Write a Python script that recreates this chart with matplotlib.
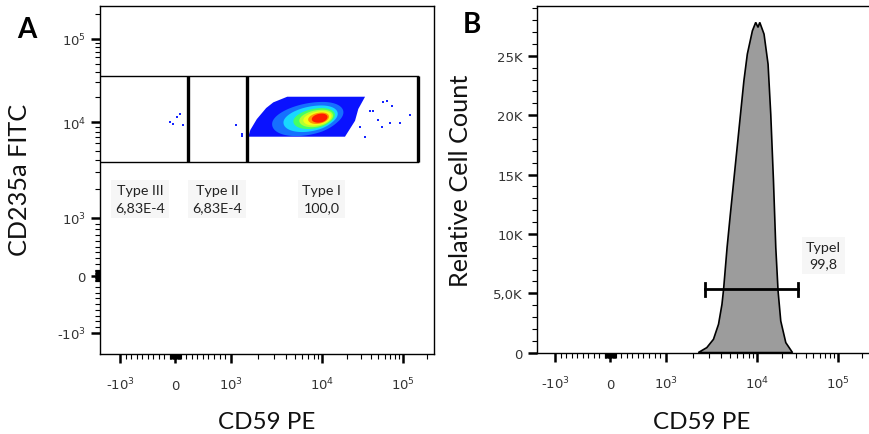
import numpy as np
import matplotlib
matplotlib.use("Agg")
import matplotlib.pyplot as plt

# ---------------- data ----------------
# Panel A: gates on CD59 PE (x) / CD235a FITC (y)
GATE_X = [222, 1494, 155000]          # Type III | Type II | Type I boundaries
GATE_Y = [3840, 35800]                # lower / upper gate limits
GATE_NAMES = ["Type III", "Type II", "Type I"]
GATE_PCTS = ["6,83E-4", "6,83E-4", "100,0"]
GATE_LABEL_X = [-640, 756, 9800]
GATE_LABEL_Y = 1580

# outline of the main (blue) event cloud
CLOUD_X = [4140, 34000, 28000, 25500, 19100, 1560, 1640, 1930, 2440, 2920]
CLOUD_Y = [20200, 20200, 14400, 10400, 7060, 7060, 8300, 10900, 14800, 17300]

# density levels (centre, half-width / half-height in decades)
LEVEL_CX = [7190, 7640, 8300, 8700, 8950, 9190, 9410]
LEVEL_CY = 11200
LEVEL_HW = [0.412, 0.313, 0.240, 0.195, 0.163, 0.121, 0.091]
LEVEL_HH = [0.178, 0.140, 0.112, 0.094, 0.078, 0.064, 0.052]
LEVEL_COLORS = ["#1670ff", "#18d8ff", "#44ff66", "#b4ff30", "#f4ff18", "#ff9800", "#ff1c00"]

# sparse single events
OUT_X = [-96, -36, 25, 85, 134, 1150, 1340, 1320, 39200, 43200, 57500, 63300,
         73200, 49800, 54900, 69700, 92900, 123700, 34000, 29400]
OUT_Y = [10150, 9570, 11400, 12560, 9350, 9420, 7230, 7540, 13740, 13740, 17300,
         18100, 15800, 10650, 8990, 9750, 9750, 12200, 7060, 8850]

# Panel B: CD59 PE histogram
HIST_X = [2270, 2810, 3320, 3770, 4110, 4280, 4670, 5070, 5520, 6010, 6540, 7120,
          7760, 8810, 9580, 10170, 10690, 12090, 13570, 14660, 15850, 16940,
          18090, 19540, 22580, 27390]
HIST_Y = [0, 420, 1120, 2390, 4070, 5340, 8850, 11660, 14470, 17280, 20090, 22900,
          25150, 27110, 27820, 27400, 27820, 26830, 24300, 20090, 14470, 8850,
          5190, 2660, 840, 0]
BAR_X = [2690, 32200]
BAR_Y = 5340
BAR_LABEL = "TypeI\n99,8"
BAR_LABEL_POS = (66800, 8200)

# tick definitions
BI_MAJOR = [-1000, 0, 1000, 10000, 100000]
BI_LABELS = ["-$10^{3}$", "0", "$10^{3}$", "$10^{4}$", "$10^{5}$"]
BI_MINOR = ([-k * 100 for k in range(1, 10)] + [-k * 10 for k in range(1, 10)] +
            [k * 10 for k in range(1, 10)] + [k * 100 for k in range(1, 10)] +
            [k * 1000 for k in range(2, 10)] + [k * 10000 for k in range(2, 10)] +
            [200000])
CNT_MAJOR = [0, 5000, 10000, 15000, 20000, 25000]
CNT_LABELS = ["0", "5,0K", "10K", "15K", "20K", "25K"]
CNT_MINOR = [k * 1000 for k in range(0, 30) if k % 5]

# ---------------- biexponential-like scale ----------------
LIN = 1000.0
T_ANCH = np.array([-6.0, -1.0, 0.0, 1.0, 2.0, 3.0, 6.0])
N_ANCH = np.array([0.061 - 5 * 0.165, 0.061, 0.2255, 0.391, 0.666, 0.906, 0.906 + 3 * 0.24])


def fwd(x):
    x = np.asarray(x, dtype=float)
    a = np.abs(x)
    t = np.where(a <= LIN, a / LIN, 1.0 + np.log10(np.maximum(a, LIN) / LIN))
    return np.interp(np.sign(x) * t, T_ANCH, N_ANCH)


def inv(n):
    n = np.asarray(n, dtype=float)
    t = np.interp(n, N_ANCH, T_ANCH)
    a = np.abs(t)
    v = np.where(a <= 1, a * LIN, LIN * 10 ** (np.maximum(a, 1) - 1))
    return np.sign(t) * v


plt.rcParams["font.family"] = ["DejaVu Sans"]
plt.rcParams["mathtext.fontset"] = "dejavusans"

W, H = 869, 435
fig = plt.figure(figsize=(W / 100, H / 100), dpi=100)

TICK_COLOR = "#333333"
LABEL_FONT = "Lato"


def style_axes(ax):
    for s in ax.spines.values():
        s.set_linewidth(1.0)
        s.set_color("black")
    ax.tick_params(which="major", length=6.2, width=1.8, color="black",
                   labelsize=9.5, labelcolor=TICK_COLOR, direction="out")
    ax.tick_params(which="minor", length=3.3, width=0.8, color="black", direction="out")
    ax.tick_params(axis="y", which="major", pad=4)


def bi_xaxis(ax, shift=0.0):
    ax.set_xscale("function", functions=(fwd, inv))
    ax.set_xlim(inv(0.0 + shift), inv(1.0 + shift))
    ax.set_xticks(BI_MAJOR)
    ax.set_xticklabels(BI_LABELS)
    ax.set_xticks(BI_MINOR, minor=True)
    ax.tick_params(axis="x", which="major", pad=19)
    for lab in ax.get_xticklabels():
        lab.set_verticalalignment("baseline")


# ---------------- Panel A ----------------
axA = fig.add_axes([100 / W, (H - 355) / H, 334 / W, 348 / H])
bi_xaxis(axA)
axA.set_yscale("function", functions=(fwd, inv))
axA.set_ylim(inv(0.0), inv(1.0))
axA.set_yticks(BI_MAJOR)
axA.set_yticklabels(BI_LABELS)
axA.set_yticks(BI_MINOR, minor=True)
style_axes(axA)

cloud = axA.fill(CLOUD_X, CLOUD_Y, color="#0a12ff", lw=0, zorder=2)[0]
theta = np.linspace(0, 2 * np.pi, 120)
phi = np.deg2rad(12)
for cx, hw, hh, col in zip(LEVEL_CX, LEVEL_HW, LEVEL_HH, LEVEL_COLORS):
    lx = np.log10(cx) + hw * np.cos(theta) * np.cos(phi) - hh * np.sin(theta) * np.sin(phi)
    ly = np.log10(LEVEL_CY) + hw * np.cos(theta) * np.sin(phi) + hh * np.sin(theta) * np.cos(phi)
    p = axA.fill(10 ** lx, 10 ** ly, color=col, lw=0, zorder=3)[0]
    p.set_clip_path(cloud)
axA.scatter(OUT_X, OUT_Y, s=2.5, c="#1424ff", marker="s", linewidths=0, zorder=3)

xl = axA.get_xlim()
axA.plot([xl[0], GATE_X[-1]], [GATE_Y[1], GATE_Y[1]], color="black", lw=1.0, zorder=4)
axA.plot([xl[0], GATE_X[-1]], [GATE_Y[0], GATE_Y[0]], color="black", lw=1.0, zorder=4)
for gx in GATE_X:
    axA.plot([gx, gx], GATE_Y, color="black", lw=2.4, zorder=4, solid_capstyle="butt")

for name, pct, lx_ in zip(GATE_NAMES, GATE_PCTS, GATE_LABEL_X):
    axA.text(lx_, GATE_LABEL_Y, f"{name}\n{pct}", ha="center", va="center",
             fontsize=10.3, family=LABEL_FONT, color="#222222", linespacing=1.5,
             bbox=dict(boxstyle="square,pad=0.3", fc="#f6f6f6", ec="none"), zorder=5)

# ---------------- Panel B ----------------
axB = fig.add_axes([537 / W, (H - 354.3) / H, 334 / W, 347.3 / H])
bi_xaxis(axB, shift=0.006)
axB.set_ylim(-60, 29200)
axB.set_yticks(CNT_MAJOR)
axB.set_yticklabels(CNT_LABELS)
axB.set_yticks(CNT_MINOR, minor=True)
style_axes(axB)

axB.fill(HIST_X, HIST_Y, facecolor="#9c9c9c", edgecolor="black", lw=1.2, zorder=2)
axB.plot(BAR_X, [BAR_Y, BAR_Y], color="black", lw=2.0, zorder=4)
for bx in BAR_X:
    axB.plot([bx, bx], [BAR_Y - 560, BAR_Y + 560], color="black", lw=2.0, zorder=4)
axB.text(*BAR_LABEL_POS, BAR_LABEL, ha="center", va="center", fontsize=10.3,
         family=LABEL_FONT, color="#222222", linespacing=1.45,
         bbox=dict(boxstyle="square,pad=0.3", fc="#f6f6f6", ec="none"), zorder=5)

# ---------------- labels ----------------
fig.text(20 / W, 1 - 180 / H, "CD235a FITC", rotation=90, ha="center", va="center",
         fontsize=18.2, family=LABEL_FONT, color="#111111")
fig.text(460 / W, 1 - 181 / H, "Relative Cell Count", rotation=90, ha="center",
         va="center", fontsize=18.2, family=LABEL_FONT, color="#111111")
fig.text(267 / W, 1 - 423 / H, "CD59 PE", ha="center", va="center",
         fontsize=17.4, family=LABEL_FONT, color="#111111")
fig.text(702 / W, 1 - 423 / H, "CD59 PE", ha="center", va="center",
         fontsize=17.4, family=LABEL_FONT, color="#111111")
fig.text(27 / W, 1 - 30 / H, "A", ha="center", va="center", fontsize=20,
         fontweight="bold", family=LABEL_FONT, color="black")
fig.text(472 / W, 1 - 25 / H, "B", ha="center", va="center", fontsize=20,
         fontweight="bold", family=LABEL_FONT, color="black")

fig.savefig("out.png", dpi=100)
